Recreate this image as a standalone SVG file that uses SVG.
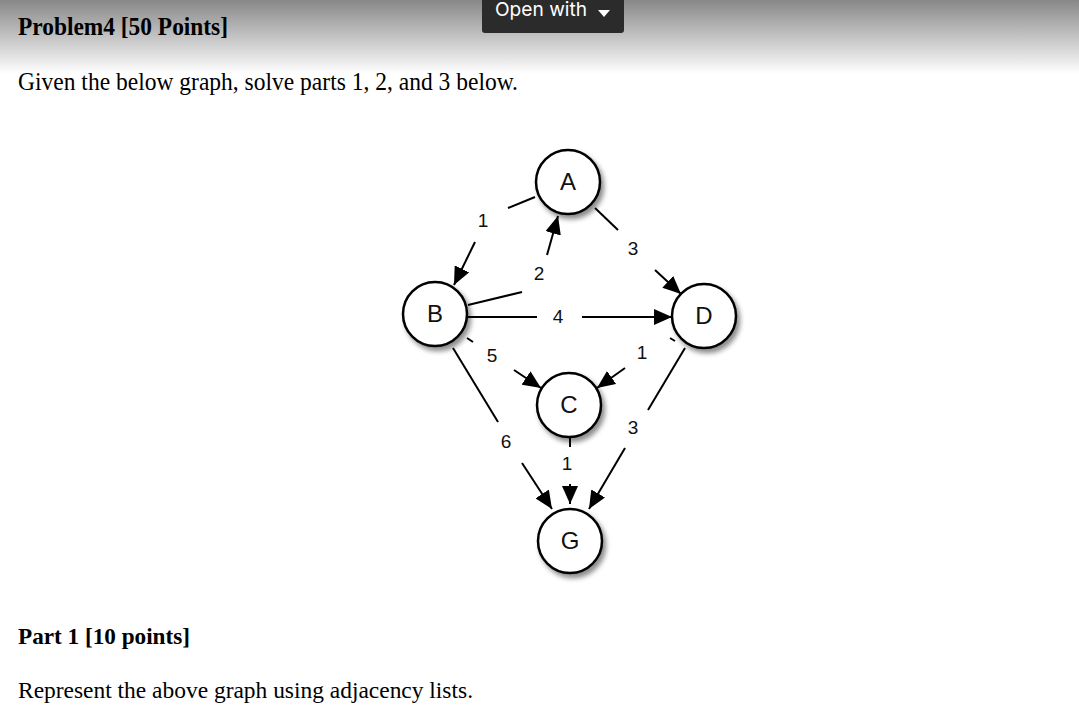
<svg xmlns="http://www.w3.org/2000/svg" width="1079" height="722" viewBox="0 0 1079 722">
<style>
.serif{font-family:"Liberation Serif","Times New Roman",serif;fill:#000}
.node circle{fill:#fff;stroke:#000;stroke-width:2.5}
.node text{font-family:"Liberation Sans",Arial,sans-serif;font-size:24px;text-anchor:middle;fill:#111}
.edge{stroke:#000;stroke-width:2;fill:none}
.lbl{font-family:"Liberation Sans",Arial,sans-serif;font-size:19px;text-anchor:middle;fill:#111}
</style>
<defs>
<linearGradient id="hdr" x1="0" y1="0" x2="0" y2="1">
<stop offset="0" stop-color="#888"/>
<stop offset="1" stop-color="#fff"/>
</linearGradient>
<filter id="sh" x="-30%" y="-30%" width="170%" height="170%">
<feDropShadow dx="3" dy="4" stdDeviation="2.5" flood-color="#000" flood-opacity="0.45"/>
</filter>
<marker id="arr" markerUnits="userSpaceOnUse" markerWidth="20" markerHeight="16" refX="18" refY="8" orient="auto">
<path d="M0,0 L18,8 L0,16 Z" fill="#000"/>
</marker>
</defs>
<rect x="0" y="0" width="1079" height="722" fill="#fff"/>
<rect x="0" y="0" width="1079" height="74" fill="url(#hdr)"/>
<g id="button">
<rect x="482" y="-4" width="142" height="37" rx="3" fill="#2b2b2b"/>
<text x="495" y="16" font-family="Inter,'Open Sans',sans-serif" font-size="19" fill="#fff" textLength="92" lengthAdjust="spacingAndGlyphs">Open with</text>
<path d="M598,10 L610,10 L604,17 Z" fill="#fff"/>
</g>
<text class="serif" x="18" y="35" font-size="25" font-weight="bold" textLength="210" lengthAdjust="spacingAndGlyphs">Problem4 [50 Points]</text>
<text class="serif" x="18" y="90" font-size="25" textLength="500" lengthAdjust="spacingAndGlyphs">Given the below graph, solve parts 1, 2, and 3 below.</text>
<text class="serif" x="18" y="644" font-size="23" font-weight="bold" textLength="172" lengthAdjust="spacingAndGlyphs">Part 1 [10 points]</text>
<text class="serif" x="18" y="698" font-size="23" textLength="455" lengthAdjust="spacingAndGlyphs">Represent the above graph using adjacency lists.</text>
<g id="connectors">
<line class="edge" x1="535" y1="197" x2="508" y2="208"/>
<line class="edge" x1="475" y1="242" x2="454" y2="285" marker-end="url(#arr)"/>
<text class="lbl" x="483" y="227">1</text>
<line class="edge" x1="468" y1="305" x2="522" y2="292"/>
<line class="edge" x1="547" y1="255" x2="558" y2="216" marker-end="url(#arr)"/>
<text class="lbl" x="539" y="280">2</text>
<line class="edge" x1="595" y1="208" x2="618" y2="230"/>
<line class="edge" x1="655" y1="270" x2="681" y2="294" marker-end="url(#arr)"/>
<text class="lbl" x="633" y="255">3</text>
<line class="edge" x1="468" y1="317" x2="537" y2="317"/>
<line class="edge" x1="582" y1="317" x2="672" y2="317" marker-end="url(#arr)"/>
<text class="lbl" x="558" y="323">4</text>
<line class="edge" x1="467" y1="338" x2="473" y2="342"/>
<line class="edge" x1="514" y1="370" x2="541" y2="388" marker-end="url(#arr)"/>
<text class="lbl" x="492" y="362">5</text>
<line class="edge" x1="670" y1="338" x2="675" y2="341"/>
<line class="edge" x1="625" y1="368" x2="597" y2="388" marker-end="url(#arr)"/>
<text class="lbl" x="642" y="359">1</text>
<line class="edge" x1="453" y1="348" x2="498" y2="422"/>
<line class="edge" x1="522" y1="463" x2="552" y2="509" marker-end="url(#arr)"/>
<text class="lbl" x="506" y="448">6</text>
<line class="edge" x1="570" y1="438" x2="570" y2="447"/>
<line class="edge" x1="570" y1="484" x2="570" y2="504" marker-end="url(#arr)"/>
<text class="lbl" x="567" y="470">1</text>
<line class="edge" x1="685" y1="348" x2="648" y2="410"/>
<line class="edge" x1="625" y1="448" x2="589" y2="509" marker-end="url(#arr)"/>
<text class="lbl" x="633" y="434">3</text>
</g>
<g id="node-A" class="node"><circle cx="568" cy="182" r="32" filter="url(#sh)"/><text x="568" y="190">A</text></g>
<g id="node-B" class="node"><circle cx="435" cy="314" r="32" filter="url(#sh)"/><text x="435" y="322">B</text></g>
<g id="node-D" class="node"><circle cx="704" cy="316" r="32" filter="url(#sh)"/><text x="704" y="324">D</text></g>
<g id="node-C" class="node"><circle cx="569" cy="405" r="32" filter="url(#sh)"/><text x="569" y="413">C</text></g>
<g id="node-G" class="node"><circle cx="570" cy="541" r="32" filter="url(#sh)"/><text x="570" y="549">G</text></g>
</svg>
